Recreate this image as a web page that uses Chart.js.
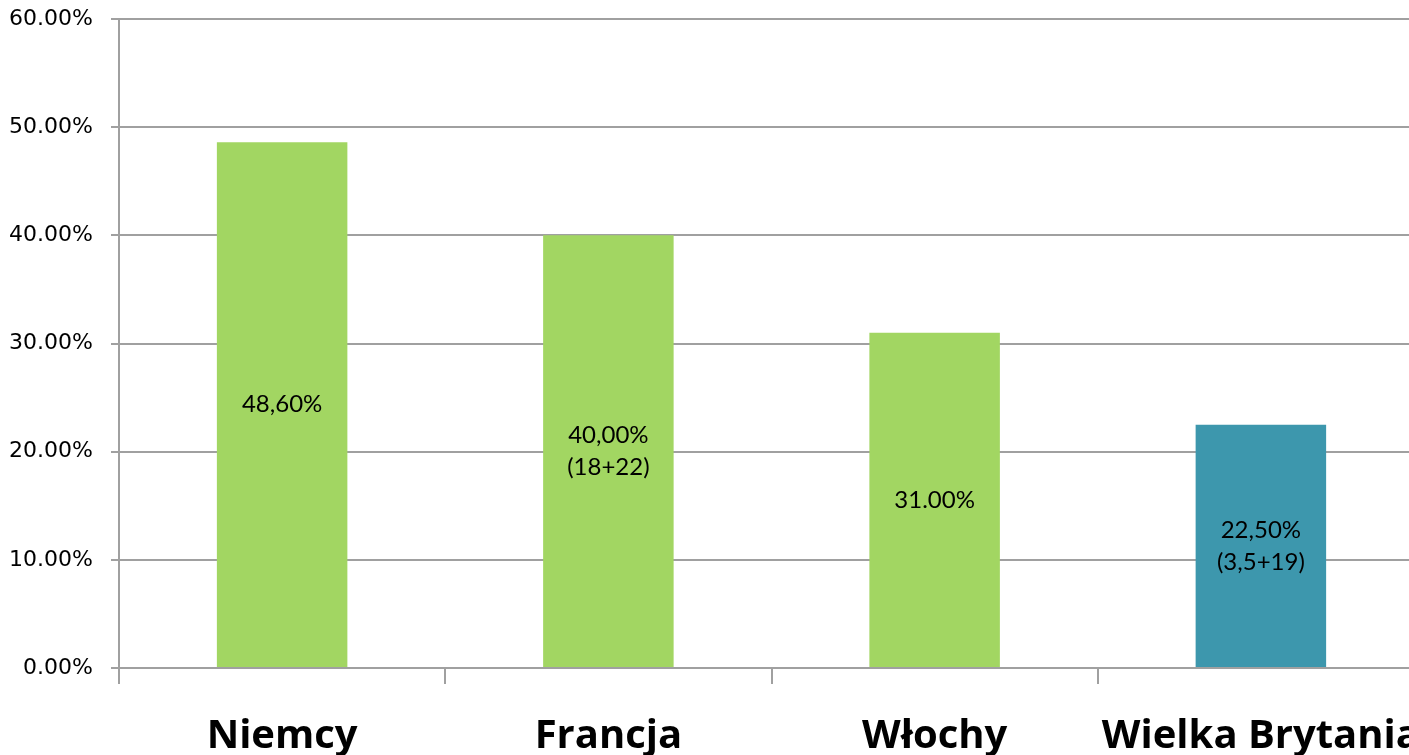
<!DOCTYPE html>
<html lang="pl">
<head>
    <meta charset="UTF-8">
    <title>Wykres</title>
    <style>
        html, body {
            margin: 0;
            padding: 0;
            background: #fff;
            overflow: hidden;
        }
        #wrap {
            width: 1409px;
            height: 755px;
            overflow: hidden;
            position: relative;
        }
        #chart {
            position: absolute;
            left: 0;
            top: 0;
        }
    </style>
</head>
<body>
<div id="wrap">
    <canvas id="chart" width="1424" height="755"></canvas>
</div>

<script src="https://cdn.jsdelivr.net/npm/chart.js"></script>
<script>
    // data
    const countries = ['Niemcy', 'Francja', 'Włochy', 'Wielka Brytania'];
    const shares = [0.486, 0.40, 0.31, 0.225];
    const barLabels = [['48,60%'], ['40,00%', '(18+22)'], ['31.00%'], ['22,50%', '(3,5+19)']];
    const barColors = ['#A2D662', '#A2D662', '#A2D662', '#3D97AD'];
    const yTicks = [0, 0.1, 0.2, 0.3, 0.4, 0.5, 0.6];

    // text inside each bar, centred vertically
    const insideLabels = {
        id: 'insideLabels',
        afterDatasetsDraw(chart) {
            const ctx = chart.ctx;
            const meta = chart.getDatasetMeta(0);
            ctx.save();
            ctx.font = '24px Lato';
            ctx.fillStyle = '#000';
            ctx.textAlign = 'center';
            ctx.textBaseline = 'middle';
            meta.data.forEach((bar, i) => {
                const lines = barLabels[i];
                const mid = (bar.y + bar.base) / 2;
                const lh = 32;
                lines.forEach((t, k) => {
                    ctx.fillText(t, bar.x, mid + (k - (lines.length - 1) / 2) * lh);
                });
            });
            ctx.restore();
        }
    };

    const ctx = document.getElementById('chart').getContext('2d');
    new Chart(ctx, {
        type: 'bar',
        data: {
            labels: countries,
            datasets: [{
                data: shares,
                backgroundColor: barColors,
                categoryPercentage: 1.0,
                barPercentage: 0.4
            }]
        },
        options: {
            responsive: false,
            animation: false,
            layout: { padding: { top: 19, right: 0, left: 0, bottom: 0 } },
            plugins: {
                legend: { display: false },
                tooltip: { enabled: false }
            },
            scales: {
                x: {
                    grid: {
                        offset: true,
                        drawOnChartArea: false,
                        drawTicks: true,
                        tickLength: 16,
                        color: '#A0A0A0',
                        lineWidth: 2
                    },
                    border: { color: '#A0A0A0', width: 2 },
                    ticks: {
                        color: '#000',
                        padding: 29,
                        maxRotation: 0,
                        autoSkip: false,
                        font: { family: 'Open Sans', size: 40, weight: 'bold' }
                    },
                    afterFit(axis) {
                        axis.height = 87;
                        axis.paddingLeft = 0;
                        axis.paddingRight = 0;
                    }
                },
                y: {
                    min: 0,
                    max: 0.6,
                    afterBuildTicks(axis) {
                        axis.ticks = yTicks.map(v => ({ value: v }));
                    },
                    grid: {
                        color: '#A0A0A0',
                        lineWidth: 2,
                        tickLength: 8
                    },
                    border: { color: '#A0A0A0', width: 2 },
                    ticks: {
                        color: '#000',
                        padding: 18,
                        font: { family: 'DejaVu Sans', size: 22 },
                        callback: v => (v * 100).toFixed(2) + '%'
                    },
                    afterFit(axis) {
                        axis.width = 119;
                        axis.paddingTop = 0;
                        axis.paddingBottom = 0;
                    }
                }
            }
        },
        plugins: [insideLabels]
    });
</script>
</body>
</html>
